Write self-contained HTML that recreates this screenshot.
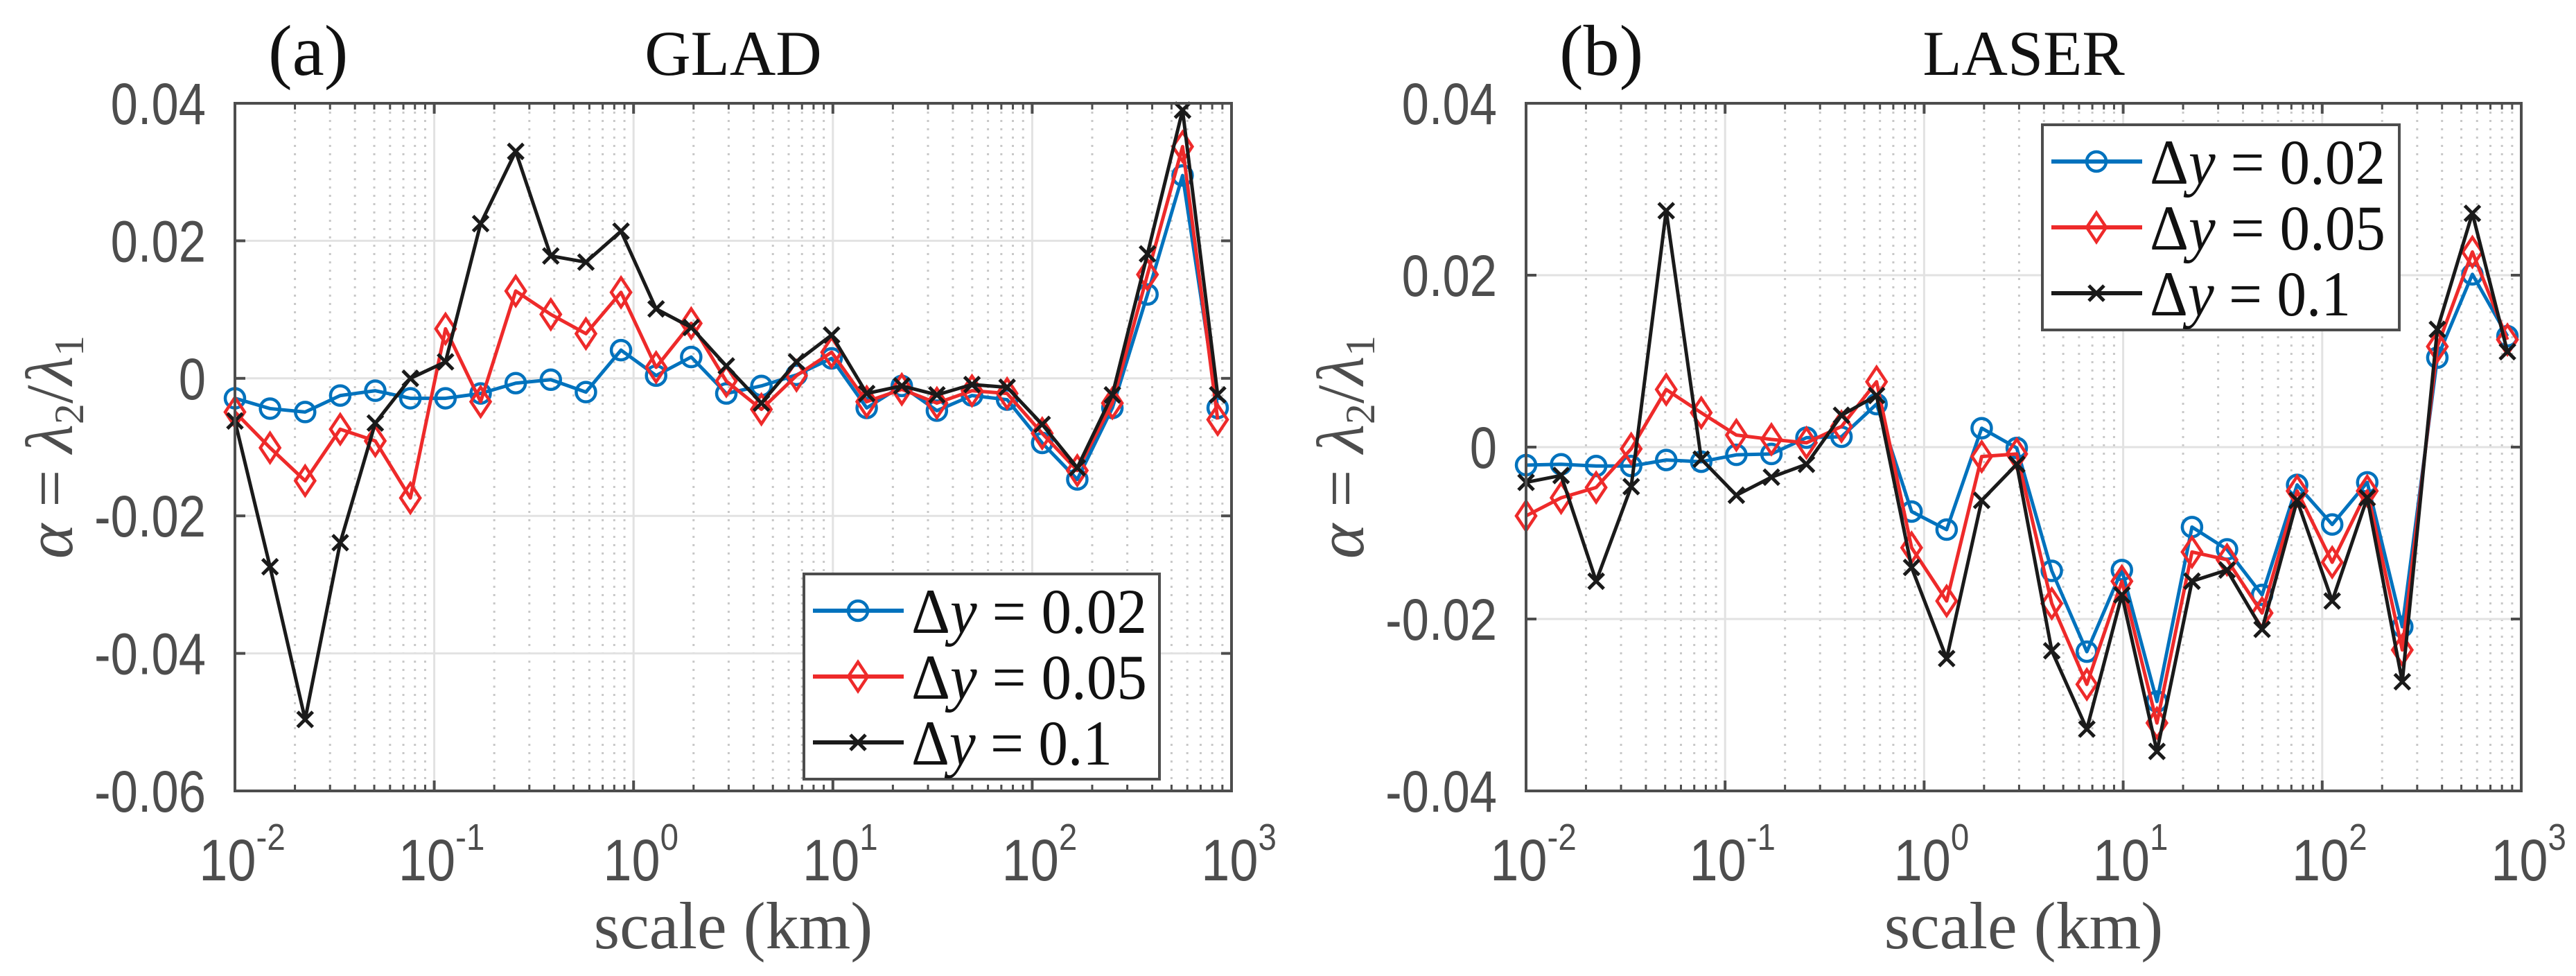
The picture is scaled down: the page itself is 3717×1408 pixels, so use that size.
<!DOCTYPE html>
<html><head><meta charset="utf-8"><style>
html,body{margin:0;padding:0;background:#fff;}
svg{display:block;}
</style></head><body>
<svg id="fig" xmlns="http://www.w3.org/2000/svg" width="3717" height="1408" viewBox="0 0 3717 1408">
<rect width="3717" height="1408" fill="#fff"/>
</svg>
<script>
const scaleKm = [0.01,0.015,0.0225,0.03375,0.0506,0.0759,0.1139,0.1709,0.2563,0.3844,0.5767,0.8650,1.2975,1.9462,2.9193,4.3789,6.5684,9.8526,14.779,22.168,33.253,49.879,74.818,112.23,168.34,252.51,378.77,568.15,852.23];
const gladBlue = [-0.0029,-0.0044,-0.0049,-0.0025,-0.0018,-0.0029,-0.0029,-0.0022,-0.0007,-0.0002,-0.002,0.0041,0.0004,0.0031,-0.0022,-0.0011,0.0005,0.0029,-0.0043,-0.0011,-0.0047,-0.0025,-0.0031,-0.0094,-0.0147,-0.0043,0.0122,0.0295,-0.0043];
const gladRed = [-0.0049,-0.0101,-0.0149,-0.0074,-0.0091,-0.0174,0.0072,-0.0034,0.0127,0.0093,0.0065,0.0125,0.0016,0.008,-0.0004,-0.0045,0.0004,0.0038,-0.0034,-0.0016,-0.0036,-0.0018,-0.0022,-0.008,-0.0134,-0.0036,0.0151,0.0337,-0.006];
const gladBlack = [-0.0062,-0.0274,-0.0496,-0.0239,-0.0065,0,0.0024,0.0225,0.033,0.0178,0.0169,0.0214,0.0101,0.0074,0.0018,-0.0036,0.0024,0.0063,-0.0022,-0.0011,-0.0024,-0.0009,-0.0013,-0.0067,-0.013,-0.0024,0.0181,0.039,-0.0024];
const laserBlue = [-0.0021,-0.002,-0.0022,-0.0022,-0.0015,-0.0017,-0.0009,-0.0008,0.0011,0.0012,0.005,-0.0075,-0.0096,0.0022,-0.0001,-0.0144,-0.0238,-0.0143,-0.0296,-0.0093,-0.0119,-0.0172,-0.0044,-0.009,-0.0041,-0.0209,0.0104,0.0201,0.0129];
const laserRed = [-0.008,-0.0059,-0.0047,-0.0002,0.0067,0.004,0.0014,0.0009,0.0005,0.0024,0.0076,-0.0117,-0.0179,-0.0011,-0.0008,-0.0182,-0.0276,-0.0156,-0.0321,-0.0122,-0.0131,-0.0193,-0.0051,-0.0134,-0.0051,-0.0236,0.0117,0.0227,0.0125];
const laserBlack = [-0.0041,-0.0033,-0.0156,-0.0046,0.0275,-0.0014,-0.0056,-0.0035,-0.002,0.0037,0.006,-0.014,-0.0246,-0.0062,-0.002,-0.0237,-0.0328,-0.0172,-0.0354,-0.0156,-0.0143,-0.0212,-0.0062,-0.0179,-0.0059,-0.0273,0.0137,0.0272,0.0111];
const xTickExps = [-2,-1,0,1,2,3];
const gladYTicks = [-0.06,-0.04,-0.02,0,0.02,0.04];
const gladYLabels = ["-0.06","-0.04","-0.02","0","0.02","0.04"];
const laserYTicks = [-0.04,-0.02,0,0.02,0.04];
const laserYLabels = ["-0.04","-0.02","0","0.02","0.04"];
const legendLabels = ["0.02","0.05","0.1"];

const NS="http://www.w3.org/2000/svg";
const svg=document.getElementById('fig');
function mk(tag,attrs,parent){const e=document.createElementNS(NS,tag);for(const k in attrs)e.setAttribute(k,attrs[k]);(parent||svg).appendChild(e);return e;}
const COLORS=["#0072BD","#EE2A2A","#1a1a1a"];
const GRAY="#4d4d4d";

function panel(o){
  const g=mk('g',{});
  
  
  const X0=o.x0,X1=o.x1,Y0=o.y0,Y1=o.y1;
  const sx=v=>X0+(Math.log10(v)+2)/5*(X1-X0);
  const sy=v=>Y1-(v-o.ymin)/(o.ymax-o.ymin)*(Y1-Y0);
  for(let e=-2;e<3;e++)for(let m=2;m<=9;m++){
    const x=sx(m*Math.pow(10,e));
    const l=mk('line',{x1:x,x2:x,y1:Y0,y2:Y1,stroke:"#c8c8c8","stroke-width":3,"stroke-dasharray":"3 9"},g);
    
    
    for(const [a,b] of [[Y0,Y0+9],[Y1,Y1-9]]){const t=mk('line',{x1:x,x2:x,y1:a,y2:b,stroke:GRAY,"stroke-width":3},g);
      
      }
  }
  xTickExps.forEach(e=>{
    const x=sx(Math.pow(10,e));
    const l=mk('line',{x1:x,x2:x,y1:Y0,y2:Y1,stroke:"#e2e2e2","stroke-width":3},g);
    
    
    for(const [a,b] of [[Y0,Y0+15],[Y1,Y1-15]]){const t=mk('line',{x1:x,x2:x,y1:a,y2:b,stroke:GRAY,"stroke-width":4},g);
      
      }
    const tx=mk('text',{x:x+12,y:1270,"text-anchor":"middle","font-family":"Liberation Sans, sans-serif","font-size":84,fill:GRAY,transform:`translate(${x} 0) scale(0.88 1) translate(${-x} 0)`},g);
    
    
    tx.textContent="10";
    const sp=mk('tspan',{dy:-44,"font-size":54},tx);sp.textContent=String(e);
  });
  o.yticks.forEach((v,i)=>{
    const y=sy(v);
    const l=mk('line',{x1:X0,x2:X1,y1:y,y2:y,stroke:"#e2e2e2","stroke-width":3},g);
    
    
    for(const [a,b] of [[X0,X0+15],[X1,X1-15]]){const t=mk('line',{x1:a,x2:b,y1:y,y2:y,stroke:GRAY,"stroke-width":4},g);
      
      }
    const ax=X0-42;
    const tx=mk('text',{x:ax,y:y+30,"text-anchor":"end","font-family":"Liberation Sans, sans-serif","font-size":84,fill:GRAY,transform:`translate(${ax} 0) scale(0.84 1) translate(${-ax} 0)`},g);
    
    
    tx.textContent=o.ylabels[i];
  });
  o.series.forEach((s,si)=>{
    const pts=scaleKm.map((x,i)=>[sx(x),sy(s[i])]);
    const pl=mk('polyline',{points:pts.map(p=>p.join(',')).join(' '),fill:"none",stroke:COLORS[si],"stroke-width":5,"stroke-linejoin":"round"},g);
    
    
    pts.forEach(p=>{marker(si,p[0],p[1],g);});
  });
  const bx=mk('rect',{x:X0,y:Y0,width:X1-X0,height:Y1-Y0,fill:"none",stroke:GRAY,"stroke-width":4},g);
  
  
  const L=o.legend;
  const lg=mk('g',{},g);
  
  
  mk('rect',{x:L.x,y:L.y,width:L.w,height:L.h,fill:"#fff",stroke:GRAY,"stroke-width":4},lg);
  legendLabels.forEach((lab,i)=>{
    const cy=L.y+53+i*95;
    const e=mk('g',{},lg);
    
    
    mk('line',{x1:L.x+13,x2:L.x+144,y1:cy,y2:cy,stroke:COLORS[i],"stroke-width":6},e);
    marker(i,L.x+78,cy,e);
    const t=mk('text',{x:L.x+155,y:cy+32,"font-family":"Liberation Serif, serif","font-size":92,fill:"#111",textLength:340,lengthAdjust:"spacingAndGlyphs"},e);
    t.innerHTML='Δ<tspan font-style="italic">y</tspan> = '+lab;
    if(lab==="0.1") t.setAttribute('textLength',290);
  });
  const pa=mk('text',{x:o.x0+48,y:108,"font-family":"Liberation Serif, serif","font-size":104,fill:"#111"});
  
  
  pa.textContent=o.tag;
  const ti=mk('text',{x:(X0+X1)/2,y:108,"text-anchor":"middle","font-family":"Liberation Serif, serif","font-size":92,fill:"#111"});
  
  
  ti.textContent=o.title;
  const xl=mk('text',{x:(X0+X1)/2,y:1368,"text-anchor":"middle","font-family":"Liberation Serif, serif","font-size":96,fill:GRAY});
  
  
  xl.textContent="scale (km)";
  const yl=mk('text',{x:0,y:0,"text-anchor":"middle","font-family":"Liberation Serif, serif","font-size":96,fill:GRAY,transform:`translate(${X0-235} ${(Y0+Y1)/2}) rotate(-90)`});
  
  
  yl.innerHTML='<tspan font-style="italic">α</tspan> = <tspan font-style="italic">λ</tspan><tspan font-size="60" dy="16">2</tspan><tspan dy="-16">/</tspan><tspan font-style="italic">λ</tspan><tspan font-size="60" dy="16">1</tspan>';
}
function marker(si,x,y,parent){
  let m;
  if(si===0){m=mk('circle',{cx:x,cy:y,r:14,fill:"none",stroke:COLORS[0],"stroke-width":4.5},parent);}
  else if(si===1){m=mk('polygon',{points:`${x},${y-21} ${x+14},${y} ${x},${y+21} ${x-14},${y}`,fill:"none",stroke:COLORS[1],"stroke-width":4.5},parent);}
  else {m=mk('path',{d:`M${x-11},${y-11}L${x+11},${y+11}M${x-11},${y+11}L${x+11},${y-11}`,stroke:COLORS[2],"stroke-width":5},parent);}
  
  
  return m;
}
panel({name:'glad-panel',short:'glad',tag:'(a)',title:'GLAD',x0:339,x1:1777,y0:149,y1:1141,ymin:-0.06,ymax:0.04,yticks:gladYTicks,ylabels:gladYLabels,series:[gladBlue,gladRed,gladBlack],legend:{x:1160,y:828,w:513,h:296}});
panel({name:'laser-panel',short:'laser',tag:'(b)',title:'LASER',x0:2202,x1:3638,y0:149,y1:1141,ymin:-0.04,ymax:0.04,yticks:laserYTicks,ylabels:laserYLabels,series:[laserBlue,laserRed,laserBlack],legend:{x:2947,y:180,w:515,h:296}});
</script>
</body></html>
